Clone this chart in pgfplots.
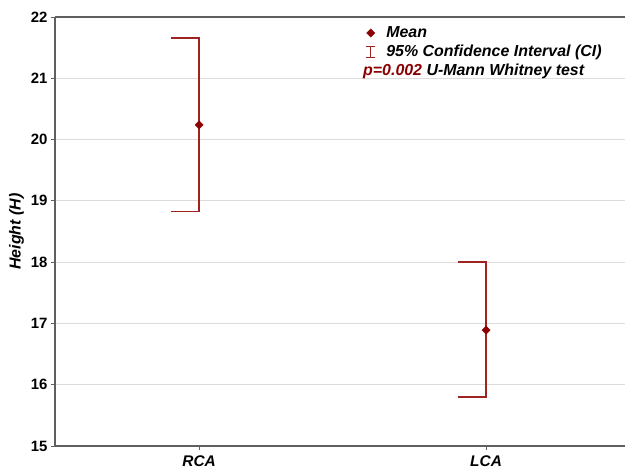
\documentclass[border=0pt]{standalone}
\usepackage{fontspec}
\setmainfont{Liberation Sans}
\usepackage{pgfplots}
\pgfplotsset{compat=1.18}
\definecolor{mred}{RGB}{139,0,0}
\definecolor{barred}{RGB}{158,36,36}
\definecolor{axgray}{RGB}{95,95,95}
\definecolor{gridgray}{RGB}{220,220,220}
\begin{document}
\begin{tikzpicture}
\begin{axis}[name=ax, scale only axis, width=570bp, height=429bp,
  xmin=-0.502, xmax=1.484, ymin=15, ymax=22,
  axis lines*=left, axis line style={axgray, line width=1.1bp},
  xtick={0,1}, xticklabels={RCA,LCA},
  ytick={15,16,...,22},
  ymajorgrids, grid style={gridgray, line width=0.8bp},
  tick style={axgray, line width=0.8bp}, tick align=outside, major tick length=4bp,
  /pgf/number format/assume math mode=true,
  yticklabel style={font=\fontsize{15}{17}\selectfont\bfseries},
  xticklabel style={font=\fontsize{15.5}{17}\selectfont\bfseries\itshape, yshift=-2.5bp},
  ylabel={Height (H)},
  ylabel style={font=\fontsize{16}{18}\selectfont\bfseries\itshape},
  clip=false,
  legend cell align=left,
  legend style={at={(axis cs:0.580,21.876)}, anchor=north west, draw=none, fill=none,
    font=\fontsize{16}{18}\selectfont\bfseries\itshape, row sep=2bp, column sep=6.5bp,
    inner sep=0pt, nodes={inner xsep=4bp}},
]
% CI brackets (cap on the left only)
\addplot[draw=barred, color=barred, line width=1.4bp, mark=none, forget plot] coordinates {(-0.098,21.66) (0,21.66) (0,18.83) (-0.098,18.83)};
\addplot[draw=barred, color=barred, line width=1.4bp, mark=none, forget plot] coordinates {(0.902,18.00) (1,18.00) (1,15.80) (0.902,15.80)};
% means
\addplot[only marks, mark=square*, mark size=2.9bp, mark options={rotate=45}, color=mred, draw=mred, fill=mred] coordinates {(0,20.24) (1,16.89)};
\addlegendentry{Mean}
\addlegendimage{legend image code/.code={
  \draw[draw=barred, line width=1.1bp] (0.3cm,-5.5bp) -- (0.3cm,5.5bp);
  \draw[draw=barred, line width=1.1bp] (0.3cm-4.5bp,5.5bp) -- (0.3cm+4.5bp,5.5bp);
  \draw[draw=barred, line width=1.1bp] (0.3cm-4.5bp,-5.5bp) -- (0.3cm+4.5bp,-5.5bp);}}
\addlegendentry{95\% Confidence Interval (CI)}
\draw[axgray, line width=1.1bp] (rel axis cs:0,1) -- (rel axis cs:1,1);
\node[anchor=west, font=\fontsize{16}{18}\selectfont\bfseries\itshape, inner sep=0pt] at (axis cs:0.571,21.115) {\textcolor{mred}{p=0.002} U-Mann Whitney test};
\end{axis}
\pgfresetboundingbox
\path ([shift={(-55bp,-23bp)}]ax.south west) rectangle ([shift={(0bp,17bp)}]ax.north east);
\end{tikzpicture}
\end{document}
